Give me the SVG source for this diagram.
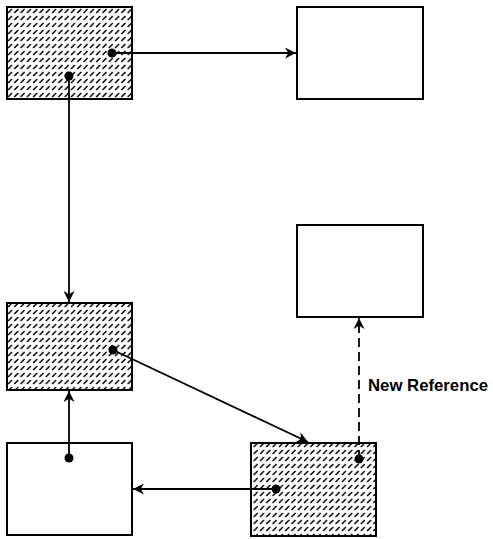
<svg xmlns="http://www.w3.org/2000/svg" width="493" height="539" viewBox="0 0 493 539">
<defs>
<pattern id="hatch" patternUnits="userSpaceOnUse" x="7" y="8" width="6.3" height="7">
<line x1="1" y1="5" x2="5" y2="1" stroke="#000" stroke-width="1.5"/>
</pattern>
<marker id="arr" viewBox="0 0 10 10" refX="10" refY="5" markerWidth="11" markerHeight="11" markerUnits="userSpaceOnUse" orient="auto">
<path d="M0,0 L10,5 L0,10 L3,5 Z" fill="#000"/>
</marker>
</defs>
<style>
.box{fill:#fff;stroke:#000;stroke-width:2}
.hb{fill:url(#hatch);stroke:#000;stroke-width:2}
.c{stroke:#000;stroke-width:1.8;fill:none;marker-end:url(#arr)}
.d{stroke-dasharray:9,5}
.dot{fill:#000}
text{font-family:"Liberation Sans Narrow","Liberation Sans",Arial,sans-serif;font-weight:bold;font-size:17px;fill:#000}
</style>
<g id="n1"><rect class="box" x="7" y="7" width="125" height="92"/><rect class="hb" x="7" y="7" width="125" height="92"/></g>
<g id="n2"><rect class="box" x="297" y="7" width="126" height="92"/></g>
<g id="n3"><rect class="box" x="7" y="303" width="125" height="87"/><rect class="hb" x="7" y="303" width="125" height="87"/></g>
<g id="n4"><rect class="box" x="7" y="443" width="125" height="92"/></g>
<g id="n5"><rect class="box" x="251" y="443" width="125" height="93"/><rect class="hb" x="251" y="443" width="125" height="93"/></g>
<g id="n6"><rect class="box" x="297" y="225" width="126" height="92"/></g>
<g id="connectors">
<line class="c" x1="112" y1="53" x2="296" y2="53"/>
<line class="c" x1="69" y1="76" x2="69" y2="302"/>
<line class="c" x1="113" y1="350" x2="308" y2="442"/>
<line class="c" x1="69" y1="458" x2="69" y2="391"/>
<line class="c" x1="276" y1="489" x2="133" y2="489"/>
<line class="c d" x1="359" y1="459" x2="359" y2="318"/>
<circle class="dot" cx="112" cy="53" r="4.5"/>
<circle class="dot" cx="69" cy="76" r="4.5"/>
<circle class="dot" cx="113" cy="350" r="4.5"/>
<circle class="dot" cx="69" cy="458" r="4.5"/>
<circle class="dot" cx="276" cy="489" r="4.5"/>
<circle class="dot" cx="359" cy="459" r="4.5"/>
<text x="368" y="391" textLength="120" lengthAdjust="spacingAndGlyphs">New Reference</text>
</g>
</svg>
